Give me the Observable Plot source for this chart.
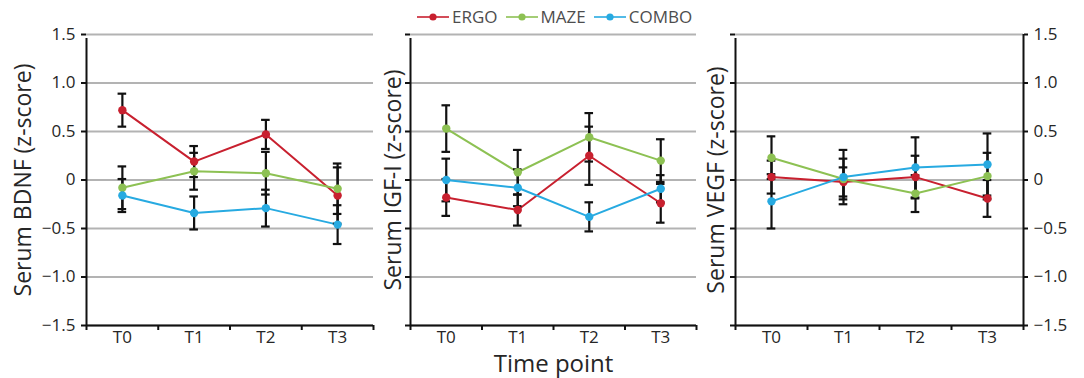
<!DOCTYPE html>
<html>
<head>
<meta charset="utf-8">
<script src="https://cdn.jsdelivr.net/npm/d3@7"></script>
<script src="https://cdn.jsdelivr.net/npm/@observablehq/plot@0.6"></script>
<style>
  body { margin: 0; background: #fff; }
  #wrap { position: relative; width: 1084px; height: 378px; font-family: "Open Sans", sans-serif; }
  #wrap svg.plot-panel { position: absolute; left: 0; top: 0; }
  #legend { position: absolute; top: 5px; left: 417px; display: flex; align-items: center; font-size: 17px; color: #4d4d4d; }
  #legend .item { display: flex; align-items: center; margin-right: 8px; }
  #legend svg { margin-right: 3px; }
</style>
</head>
<body>
<div id="wrap"><div id="legend"></div></div>
<script>
const categories = ["T0", "T1", "T2", "T3"];
const series = ["ERGO", "MAZE", "COMBO"];
const colors = ["#c8202f", "#8dc153", "#27aae1"];
const yTicks = [-1.5, -1.0, -0.5, 0, 0.5, 1.0, 1.5];
const panelLabels = ["Serum BDNF (z-score)", "Serum IGF-I (z-score)", "Serum VEGF (z-score)"];
const xLabel = "Time point";

// means per series (ERGO, MAZE, COMBO) for each panel
const bdnfMean = [[0.72, 0.19, 0.47, -0.16], [-0.08, 0.09, 0.07, -0.09], [-0.16, -0.34, -0.29, -0.46]];
const bdnfErr  = [[0.17, 0.16, 0.15, 0.29], [0.22, 0.19, 0.22, 0.26], [0.17, 0.17, 0.19, 0.20]];
const igfMean  = [[-0.18, -0.31, 0.25, -0.24], [0.53, 0.08, 0.44, 0.20], [0.00, -0.08, -0.38, -0.09]];
const igfErr   = [[0.19, 0.16, 0.30, 0.20], [0.24, 0.23, 0.25, 0.22], [0.22, 0.19, 0.15, 0.14]];
const vegfMean = [[0.03, -0.02, 0.03, -0.19], [0.23, 0.01, -0.14, 0.04], [-0.22, 0.03, 0.13, 0.16]];
const vegfErr  = [[0.17, 0.15, 0.22, 0.19], [0.22, 0.21, 0.19, 0.24], [0.28, 0.28, 0.31, 0.32]];

const panelMeans = [bdnfMean, igfMean, vegfMean];
const panelErrs = [bdnfErr, igfErr, vegfErr];

const W = 1084, H = 378;
const layout = [
  {left: 86, right: 373, labelX: 23, yLabels: "left"},
  {left: 410, right: 696, labelX: 393, yLabels: "none"},
  {left: 735, right: 1023, labelX: 716, yLabels: "right"}
];
const textColor = "#262626";
const fmt = d => d === 0 ? "0" : d.toFixed(1).replace("-", "\u2212");

const wrap = document.getElementById("wrap");
const idx = categories.map((c, i) => i);
const edges = [-0.5, ...idx.map(i => i + 0.5)];

panelMeans.forEach((means, p) => {
  const L = layout[p];
  const rows = [];
  series.forEach((s, si) => categories.forEach((c, ci) => {
    rows.push({series: s, si, x: ci, y: means[si][ci], e: panelErrs[p][si][ci]});
  }));
  const marks = [
    Plot.gridY(yTicks, {stroke: "#b3b3b3", strokeOpacity: 1, strokeWidth: 2}),
    Plot.ruleX([-0.5], {y1: -1.5, y2: 1.5, stroke: "#111", strokeWidth: 2, insetBottom: -4}),
    Plot.axisY(yTicks, {anchor: "left", tickSize: 5, strokeWidth: 2, stroke: "#111",
      tickFormat: L.yLabels === "left" ? fmt : () => "", tickPadding: 6, color: textColor, label: null}),
    Plot.ruleY([-1.5], {stroke: "#111", strokeWidth: 2}),
    Plot.axisX(edges, {anchor: "bottom", tickSize: 5, strokeWidth: 2, stroke: "#111", tickFormat: () => "", label: null}),
    Plot.axisX(idx, {anchor: "bottom", tickSize: 0, tickPadding: 5, tickFormat: i => categories[i], color: textColor, label: null}),
    Plot.text([panelLabels[p]], {frameAnchor: "left", textAnchor: "middle", lineAnchor: "middle", rotate: -90, dx: -(L.left - L.labelX), fontSize: 23, fill: textColor})
  ];
  if (L.yLabels === "right") {
    marks.push(Plot.ruleX([3.5], {y1: -1.5, y2: 1.5, stroke: "#111", strokeWidth: 2}));
    marks.push(Plot.axisY(yTicks, {anchor: "right", tickSize: 4, strokeWidth: 2, stroke: "#111",
      tickFormat: fmt, tickPadding: 6, color: textColor, label: null}));
  }
  if (p === 1) {
    marks.push(Plot.text([xLabel], {frameAnchor: "bottom", lineAnchor: "middle", dy: 39, fontSize: 24, fill: textColor}));
  }
  marks.push(
    Plot.line(rows, {x: "x", y: "y", z: "series", stroke: "series", strokeWidth: 2}),
    Plot.ruleX(rows, {x: "x", y1: d => d.y - d.e, y2: d => d.y + d.e, stroke: "#111", strokeWidth: 2.2}),
    Plot.ruleY(rows, {y: d => d.y - d.e, x1: d => d.x - 0.06, x2: d => d.x + 0.06, stroke: "#111", strokeWidth: 2.2}),
    Plot.ruleY(rows, {y: d => d.y + d.e, x1: d => d.x - 0.06, x2: d => d.x + 0.06, stroke: "#111", strokeWidth: 2.2}),
    Plot.dot(rows, {x: "x", y: "y", fill: "series", r: 4.2})
  );
  const svg = Plot.plot({
    width: W, height: H,
    marginTop: 34, marginBottom: 53,
    marginLeft: L.left, marginRight: W - L.right,
    x: {domain: [-0.5, 3.5], axis: null},
    y: {domain: [-1.5, 1.5], axis: null},
    color: {domain: series, range: colors},
    style: {background: "none", overflow: "visible", fontFamily: "'Open Sans', sans-serif", fontSize: "17px"},
    marks
  });
  svg.classList.add("plot-panel");
  wrap.appendChild(svg);
});

// legend
const legend = document.getElementById("legend");
series.forEach((s, i) => {
  const item = document.createElement("div");
  item.className = "item";
  item.innerHTML = `<svg width="32" height="12"><line x1="0" x2="32" y1="6" y2="6" stroke="${colors[i]}" stroke-width="1.6"/><circle cx="16" cy="6" r="3.6" fill="${colors[i]}"/></svg><span>${s}</span>`;
  legend.appendChild(item);
});
</script>
</body>
</html>
